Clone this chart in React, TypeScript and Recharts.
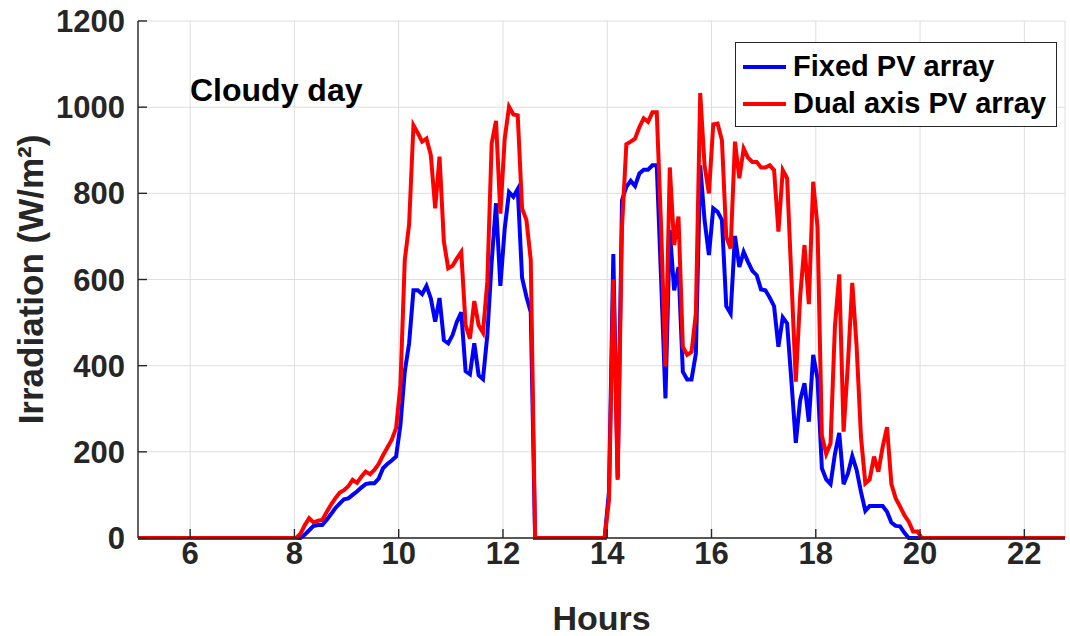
import { LineChart, Line, XAxis, YAxis, CartesianGrid } from 'recharts';

const FONT = '"Liberation Sans", Arial, Helvetica, sans-serif';

// clock times of the samples (5 min steps while the sun is up)
const times = [
  '5:00', '7:57',
  '8:02', '8:07', '8:12', '8:17', '8:22', '8:27', '8:32', '8:37', '8:42', '8:47', '8:52', '8:57',
  '9:02', '9:07', '9:12', '9:17', '9:22', '9:27', '9:32', '9:37', '9:42', '9:47', '9:52', '9:57',
  '10:02', '10:07', '10:12', '10:17', '10:22', '10:27', '10:32', '10:37', '10:42', '10:47', '10:52', '10:57',
  '11:02', '11:07', '11:12', '11:17', '11:22', '11:27', '11:32', '11:37', '11:42', '11:47', '11:52', '11:57',
  '12:02', '12:07', '12:12', '12:17', '12:22', '12:27', '12:32', '12:37',
  '13:57',
  '14:02', '14:07', '14:12', '14:17', '14:22', '14:27', '14:32', '14:37', '14:42', '14:47', '14:52', '14:57',
  '15:02', '15:07', '15:12', '15:17', '15:22', '15:27', '15:32', '15:37', '15:42', '15:47', '15:52', '15:57',
  '16:02', '16:07', '16:12', '16:17', '16:22', '16:27', '16:32', '16:37', '16:42', '16:47', '16:52', '16:57',
  '17:02', '17:07', '17:12', '17:17', '17:22', '17:27', '17:32', '17:37', '17:42', '17:47', '17:52', '17:57',
  '18:02', '18:07', '18:12', '18:17', '18:22', '18:27', '18:32', '18:37', '18:42', '18:47', '18:52', '18:57',
  '19:02', '19:07', '19:12', '19:17', '19:22', '19:27', '19:32', '19:37', '19:42', '19:47', '19:52', '19:57',
  '20:02', '20:07',
  '22:47',
];

const fixedPV = [
  0, 0,
  0, 0, 8, 18, 28, 30, 30, 42, 55, 69, 80, 90,
  92, 100, 108, 117, 125, 127, 127, 138, 162, 172, 180, 189,
  262, 386, 452, 575, 575, 566, 585, 556, 502, 557, 459, 452,
  471, 502, 524, 387, 380, 452, 378, 369, 471, 641, 777, 585,
  718, 803, 792, 810, 604, 560, 524, 0,
  0,
  107, 659, 140, 784, 815, 829, 817, 846, 855, 855, 865, 865,
  600, 324, 715, 575, 629, 386, 368, 368, 428, 865, 738, 657,
  765, 757, 738, 538, 521, 701, 629, 664, 641, 620, 610, 577,
  575, 558, 538, 444, 512, 498, 363, 221, 320, 359, 270, 425,
  370, 162, 136, 125, 195, 244, 125, 150, 190, 158, 107, 63,
  74, 74, 74, 74, 61, 36, 28, 27, 12, 0, 0, 0,
  0, 0,
  0,
];

const dualPV = [
  0, 0,
  0, 10, 30, 46, 36, 40, 42, 60, 77, 92, 105, 111,
  120, 135, 128, 142, 154, 148, 158, 172, 192, 210, 228, 255,
  355, 645, 728, 958, 940, 920, 927, 889, 765, 885, 688, 626,
  632, 649, 664, 494, 463, 550, 494, 477, 595, 916, 968, 753,
  927, 1001, 983, 981, 765, 738, 645, 0,
  0,
  88, 600, 135, 722, 914, 920, 927, 954, 974, 966, 988, 988,
  722, 398, 860, 680, 746, 444, 425, 432, 521, 1033, 865, 800,
  960, 962, 923, 699, 672, 920, 835, 904, 883, 873, 873, 860,
  860, 865, 854, 711, 854, 835, 600, 363, 560, 680, 543, 827,
  722, 238, 195, 220, 490, 612, 247, 405, 592, 444, 235, 127,
  136, 189, 154, 212, 257, 125, 92, 73, 53, 38, 15, 15,
  0, 0,
  0,
];

const xTicks = [6, 8, 10, 12, 14, 16, 18, 20, 22];
const yTicks = [0, 200, 400, 600, 800, 1000, 1200];

const toHours = (t: string) => {
  const [h, m] = t.split(':').map(Number);
  return h + m / 60;
};

const data = times.map((t, i) => ({ hour: toHours(t), fixed: fixedPV[i], dual: dualPV[i] }));

const tickStyle = { fontSize: 31, fontWeight: 700, fill: '#262626', fontFamily: FONT };
const axisColor = '#262626';

const YLabel = ({ viewBox }: any) => {
  const cx = viewBox.x + 30;
  const cy = viewBox.y + viewBox.height / 2;
  return (
    <text x={cx} y={cy} transform={`rotate(-90 ${cx} ${cy})`} textAnchor="middle" dominantBaseline="central"
      style={{ fontSize: 35, fontWeight: 700, fill: '#262626', fontFamily: FONT }}>
      Irradiation (W/m²)
    </text>
  );
};

const XLabel = ({ viewBox }: any) => {
  const cx = viewBox.x + viewBox.width / 2;
  return (
    <text x={cx} y={viewBox.y + 92} textAnchor="middle"
      style={{ fontSize: 34, fontWeight: 700, fill: '#262626', fontFamily: FONT }}>
      Hours
    </text>
  );
};

export default function App() {
  return (
    <div style={{ position: 'absolute', left: 0, top: 0, width: 1070, height: 636, background: '#fff', fontFamily: FONT }}>
      <LineChart width={1070} height={636} data={data} margin={{ top: 21, right: 5, bottom: 0, left: 0 }}>
        <CartesianGrid stroke="#dedede" strokeWidth={1} />
        <XAxis dataKey="hour" type="number" domain={[5, 22.78]} ticks={xTicks} allowDataOverflow height={98}
          tickSize={-9} tickMargin={13} tick={tickStyle} stroke={axisColor} strokeWidth={1.4}
          label={<XLabel />} />
        <XAxis xAxisId="top" orientation="top" dataKey="hour" type="number" domain={[5, 22.78]} ticks={xTicks}
          allowDataOverflow height={0} tickSize={-9} tick={false} stroke={axisColor} strokeWidth={1.4} />
        <YAxis type="number" domain={[0, 1200]} ticks={yTicks} width={138} tickSize={-9} tickMargin={22}
          tick={tickStyle} stroke={axisColor} strokeWidth={1.4} label={<YLabel />} />
        <YAxis yAxisId="right" orientation="right" type="number" domain={[0, 1200]} ticks={yTicks} width={0}
          tickSize={-9} tick={false} stroke={axisColor} strokeWidth={1.4} />
        <Line dataKey="fixed" name="Fixed PV array" stroke="#0000ff" strokeWidth={4} dot={false}
          activeDot={false} isAnimationActive={false} />
        <Line dataKey="dual" name="Dual axis PV array" stroke="#ff0000" strokeWidth={4} dot={false}
          activeDot={false} isAnimationActive={false} />
      </LineChart>

      <div style={{ position: 'absolute', left: 190, top: 74, fontSize: 32, lineHeight: '32px', fontWeight: 700, color: '#000', whiteSpace: 'nowrap' }}>
        Cloudy day
      </div>

      <div style={{ position: 'absolute', left: 735, top: 42, width: 320, height: 83, border: '1px solid #262626', background: '#fff' }}>
        {[
          { label: 'Fixed PV array', color: '#0000ff', y: 24 },
          { label: 'Dual axis PV array', color: '#ff0000', y: 61 },
        ].map((item) => (
          <div key={item.label}>
            <div style={{ position: 'absolute', left: 7, top: item.y - 2, width: 43, height: 4, background: item.color }} />
            <div style={{ position: 'absolute', left: 57, top: item.y - 15, fontSize: 29, lineHeight: '29px', fontWeight: 700, color: '#000', whiteSpace: 'nowrap' }}>
              {item.label}
            </div>
          </div>
        ))}
      </div>
    </div>
  );
}
